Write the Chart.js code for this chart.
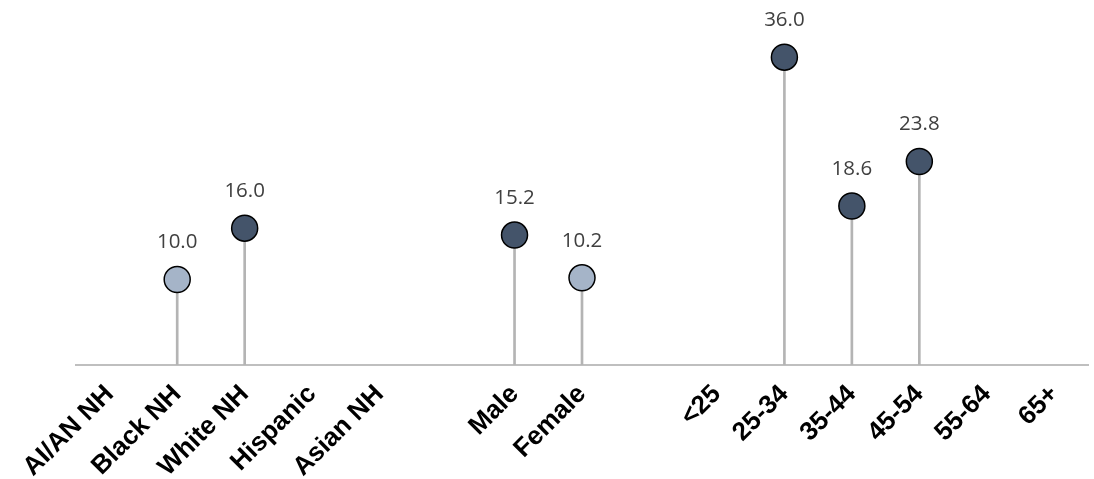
<!DOCTYPE html>
<html>
<head>
<meta charset="utf-8">
<script src="https://cdn.jsdelivr.net/npm/chart.js@4"></script>
<style>
  html, body { margin: 0; padding: 0; background: #fff; overflow: hidden; }
  canvas { display: block; }
</style>
</head>
<body>
<canvas id="chart" width="1094" height="479"></canvas>
<script>
// Categories (blank entries are the gaps between groups)
const categories = ['AI/AN NH', 'Black NH', 'White NH', 'Hispanic', 'Asian NH', '',
    'Male', 'Female', '',
    '<25', '25-34', '35-44', '45-54', '55-64', '65+'];

// Rates (null = no marker)
const rates = [null, 10.0, 16.0, null, null, null,
    15.2, 10.2, null,
    null, 36.0, 18.6, 23.8, null, null];

// true = dark marker, false = light marker
const darkMarker = [false, false, true, false, false, false,
    true, false, false,
    false, true, true, true, false, false];

const DARK = '#44546A';
const LIGHT = '#A5B4C8';

// Draw value labels above the markers
const valueLabels = {
    id: 'valueLabels',
    afterDatasetsDraw(chart) {
        const ctx = chart.ctx;
        const meta = chart.getDatasetMeta(1);
        ctx.save();
        ctx.font = '20.5px "Open Sans"';
        ctx.fillStyle = '#404040';
        ctx.textAlign = 'center';
        ctx.textBaseline = 'middle';
        meta.data.forEach((pt, i) => {
            if (rates[i] == null) return;
            ctx.fillText(rates[i].toFixed(1), pt.x, pt.y - 37);
        });
        ctx.restore();
    }
};

new Chart(document.getElementById('chart').getContext('2d'), {
    data: {
        labels: categories,
        datasets: [
            {
                type: 'bar',
                data: rates,
                backgroundColor: '#B4B4B4',
                barThickness: 2,
                order: 2
            },
            {
                type: 'line',
                data: rates,
                showLine: false,
                pointRadius: 13,
                pointHoverRadius: 13,
                pointBorderWidth: 1.5,
                pointBorderColor: '#000',
                pointBackgroundColor: darkMarker.map(d => d ? DARK : LIGHT),
                order: 1
            }
        ]
    },
    options: {
        responsive: false,
        animation: false,
        layout: { autoPadding: false, padding: { top: 23, left: 76, right: 6, bottom: 0 } },
        plugins: {
            legend: { display: false },
            tooltip: { enabled: false }
        },
        scales: {
            x: {
                offset: true,
                grid: { display: false, drawTicks: false },
                border: { color: '#BFBFBF', width: 2 },
                ticks: {
                    color: '#000',
                    font: { family: '"Liberation Sans", Arial', size: 26, weight: 'bold' },
                    minRotation: 45,
                    maxRotation: 45,
                    padding: 14,
                    autoSkip: false
                },
                afterFit(scale) {
                    // keep the axis where the reference has it
                    scale.height = 114;
                    scale.paddingLeft = 0;
                    scale.paddingRight = 0;
                }
            },
            y: {
                display: false,
                min: 0,
                max: 40
            }
        }
    },
    plugins: [valueLabels]
});
</script>
</body>
</html>
